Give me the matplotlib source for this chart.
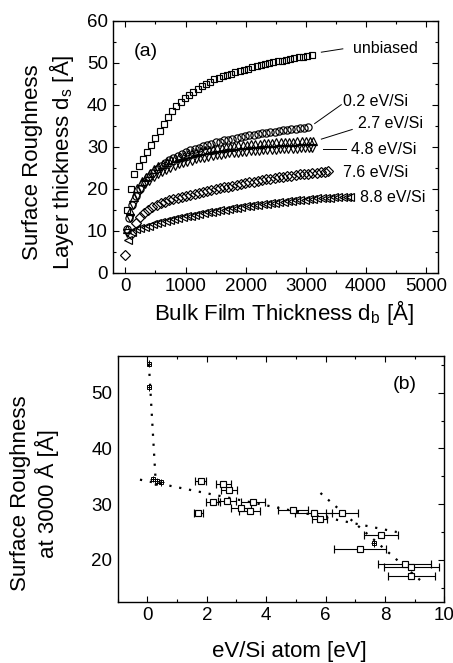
import matplotlib
matplotlib.use("Agg")
import matplotlib.pyplot as plt
from matplotlib.ticker import MultipleLocator

plt.rcParams['font.family'] = ['Liberation Sans', 'DejaVu Sans']
plt.rcParams['mathtext.fontset'] = 'custom'
plt.rcParams['mathtext.rm'] = 'Liberation Sans'
plt.rcParams['mathtext.it'] = 'Liberation Sans:italic'

# ---- panel (a): roughness layer vs bulk thickness ----
unb_x = [30, 95, 150, 220, 290, 360, 430, 500, 570, 640, 710, 780, 850, 920, 990,
         1060, 1130, 1200, 1270, 1340, 1410, 1480, 1550, 1620, 1690, 1760, 1830,
         1900, 1970, 2040, 2110, 2180, 2250, 2320, 2390, 2460, 2530, 2600, 2670,
         2740, 2810, 2880, 2950, 3020, 3100]
unb_y = [15.0, 20.0, 23.4, 25.3, 27.0, 28.7, 30.4, 32.0, 33.8, 35.5, 37.0, 38.5, 39.6,
         40.6, 41.5, 42.4, 43.1, 43.8, 44.4, 45.0, 45.5, 46.0, 46.4, 46.8, 47.1, 47.4,
         47.7, 48.0, 48.3, 48.6, 48.9, 49.1, 49.4, 49.6, 49.9, 50.1, 50.3, 50.5, 50.7,
         50.9, 51.1, 51.3, 51.4, 51.6, 51.8]

e02_x = [20, 60, 110, 170, 240, 310, 380, 450, 520, 590, 660, 730, 800, 870, 940, 1010,
         1080, 1150, 1220, 1290, 1360, 1430, 1500, 1570, 1640, 1710, 1780, 1850, 1920,
         1990, 2060, 2130, 2200, 2270, 2340, 2410, 2480, 2550, 2620, 2690, 2760, 2830,
         2900, 2970, 3030]
e02_y = [10.5, 13.0, 16.0, 18.3, 20.0, 21.5, 22.7, 23.8, 24.7, 25.5, 26.2, 26.8, 27.4,
         27.9, 28.3, 28.7, 29.1, 29.5, 29.8, 30.1, 30.4, 30.7, 31.0, 31.2, 31.5, 31.7,
         31.9, 32.1, 32.3, 32.5, 32.7, 32.9, 33.0, 33.2, 33.3, 33.5, 33.6, 33.8, 33.9,
         34.0, 34.1, 34.3, 34.4, 34.5, 34.6]

e27_x = [30, 80, 140, 200, 270, 340, 410, 480, 550, 620, 690, 760, 830, 900, 970, 1040,
         1110, 1180, 1250, 1320, 1390, 1460, 1530, 1600, 1670, 1740, 1810, 1880, 1950,
         2020, 2090, 2160, 2230, 2300, 2370, 2440, 2510, 2580, 2650, 2720, 2790, 2860,
         2930, 3000, 3070, 3120]
e27_y = [10.5, 14.8, 18.0, 20.2, 21.8, 22.9, 23.8, 24.6, 25.3, 25.9, 26.4, 26.8, 27.2,
         27.6, 27.9, 28.2, 28.5, 28.7, 28.9, 29.1, 29.3, 29.5, 29.6, 29.8, 29.9, 30.0,
         30.2, 30.3, 30.4, 30.5, 30.6, 30.65, 30.7, 30.8, 30.85, 30.9, 31.0, 31.05, 31.1,
         31.15, 31.2, 31.25, 31.3, 31.35, 31.4, 31.4]

e48_x = [20, 70, 130, 190, 260, 330, 400, 470, 540, 610, 680, 750, 820, 890, 960, 1030,
         1100, 1170, 1240, 1310, 1380, 1450, 1520, 1590, 1660, 1730, 1800, 1870, 1940,
         2010, 2080, 2150, 2220, 2290, 2360, 2430, 2500, 2570, 2640, 2710, 2780, 2850,
         2920, 2990, 3060, 3110]
e48_y = [9.5, 13.0, 16.2, 18.3, 19.9, 21.0, 21.9, 22.7, 23.4, 24.0, 24.5, 25.0, 25.4,
         25.8, 26.1, 26.4, 26.7, 27.0, 27.2, 27.4, 27.6, 27.8, 28.0, 28.1, 28.3, 28.4,
         28.5, 28.6, 28.7, 28.8, 28.9, 29.0, 29.05, 29.1, 29.2, 29.25, 29.3, 29.35, 29.4,
         29.45, 29.5, 29.55, 29.6, 29.6, 29.65, 29.7]

e76_x = [0, 100, 170, 240, 310, 380, 450, 520, 590, 660, 730, 800, 870, 940, 1010, 1080,
         1150, 1220, 1290, 1360, 1430, 1500, 1570, 1640, 1710, 1780, 1850, 1920, 1990,
         2060, 2130, 2200, 2270, 2340, 2410, 2480, 2550, 2620, 2690, 2760, 2830, 2900,
         2970, 3040, 3110, 3180, 3250, 3320, 3370]
e76_y = [4.2, 9.3, 11.8, 13.2, 14.2, 15.0, 15.6, 16.1, 16.5, 16.9, 17.2, 17.5, 17.8,
         18.0, 18.3, 18.5, 18.8, 19.0, 19.3, 19.5, 19.7, 19.9, 20.1, 20.3, 20.5, 20.7,
         20.9, 21.1, 21.3, 21.5, 21.7, 21.9, 22.0, 22.2, 22.4, 22.5, 22.7, 22.8, 23.0,
         23.1, 23.3, 23.4, 23.5, 23.6, 23.7, 23.8, 23.9, 24.0, 24.1]

e88_x = [50, 110, 180, 250, 320, 390, 460, 530, 600, 670, 740, 810, 880, 950, 1020,
         1090, 1160, 1230, 1300, 1370, 1440, 1510, 1580, 1650, 1720, 1790, 1860, 1930,
         2000, 2070, 2140, 2210, 2280, 2350, 2420, 2490, 2560, 2630, 2700, 2770, 2840,
         2910, 2980, 3050, 3120, 3190, 3260, 3330, 3400, 3470, 3540, 3610, 3680, 3740]
e88_y = [7.8, 9.8, 10.3, 10.6, 10.9, 11.2, 11.5, 11.8, 12.1, 12.3, 12.6, 12.8, 13.0,
         13.2, 13.4, 13.6, 13.8, 14.0, 14.2, 14.4, 14.5, 14.7, 14.9, 15.0, 15.2, 15.3,
         15.5, 15.6, 15.8, 15.9, 16.0, 16.2, 16.3, 16.4, 16.6, 16.7, 16.8, 16.9, 17.0,
         17.1, 17.2, 17.3, 17.4, 17.5, 17.6, 17.7, 17.8, 17.85, 17.9, 17.95, 18.0, 18.05,
         18.1, 18.1]

labels_a = ["unbiased", "0.2 eV/Si", "2.7 eV/Si", "4.8 eV/Si", "7.6 eV/Si", "8.8 eV/Si"]

# ---- panel (b): roughness at 3000 A vs energy per atom ----
ev = [0.06, 0.06, 0.20, 0.34, 0.45, 1.79, 1.71, 2.55, 2.74, 2.21, 2.68, 3.16, 3.45,
      3.55, 4.90, 5.60, 5.80, 6.56, 7.87, 7.62, 7.15, 8.66, 8.89, 8.88]
rough = [55.2, 51.0, 34.5, 34.1, 33.9, 34.2, 28.4, 33.6, 32.5, 30.4, 30.6, 29.3, 28.8,
         30.4, 29.0, 28.5, 27.3, 28.5, 24.4, 23.0, 22.0, 19.2, 18.7, 17.1]
ev_err = [0.06, 0.06, 0.10, 0.10, 0.10, 0.19, 0.15, 0.25, 0.27, 0.24, 0.30, 0.33, 0.35,
          0.40, 0.50, 0.62, 0.25, 0.55, 0.58, 0.08, 0.88, 0.90, 0.92, 0.79]
small = [True, True, True, True, True, False, False, False, False, False, False, False,
         False, False, False, False, False, False, False, True, False, False, False, False]

fit_lines = [([0.05, 0.30], [55.2, 32.2]),
             ([-0.25, 8.4], [34.4, 25.0]),
             ([5.83, 9.2], [32.0, 16.3])]


def style(ax):
    ax.tick_params(which='both', direction='in', top=True, right=True,
                   labelsize=13.5, width=0.8, pad=4)
    ax.tick_params(which='major', length=4.5)
    ax.tick_params(which='minor', length=2.5)
    for s in ax.spines.values():
        s.set_linewidth(1.0)


fig = plt.figure(figsize=(4.53, 6.63), dpi=100)
ax1 = fig.add_axes([0.2501, 0.5887, 0.7174, 0.3801])
ax2 = fig.add_axes([0.2598, 0.0925, 0.7210, 0.3706])

series = [(unb_x, unb_y, 's', 5.0), (e02_x, e02_y, 'o', 5.2),
          (e27_x, e27_y, '^', 5.6), (e48_x, e48_y, 'v', 5.6),
          (e76_x, e76_y, 'D', 4.7), (e88_x, e88_y, '<', 5.6)]
for x, y, m, ms in series:
    ax1.plot(x, y, ls='none', marker=m, ms=ms, mfc='none', mec='black', mew=0.85)

# labels with leader lines
lab_pos = [(3775, 53.4), (3614, 40.8), (3863, 35.5), (3753, 29.4), (3614, 23.9), (3902, 18.0)]
leaders = [((3257, 52.5), (3614, 53.3)), ((3146, 35.5), (3588, 40.0)),
           ((3257, 31.8), (3770, 34.1)), ((3283, 29.5), (3670, 29.5)), None, None]
for lab, pos, ld in zip(labels_a, lab_pos, leaders):
    ax1.text(pos[0], pos[1], lab, fontsize=11.5, ha='left', va='center')
    if ld is not None:
        ax1.plot([ld[0][0], ld[1][0]], [ld[0][1], ld[1][1]], color='black', lw=0.7)

ax1.text(137, 52.7, "(a)", fontsize=14, ha='left', va='center')
ax1.set_xlim(-200, 5200)
ax1.set_ylim(0, 60)
ax1.xaxis.set_major_locator(MultipleLocator(1000))
ax1.xaxis.set_minor_locator(MultipleLocator(500))
ax1.yaxis.set_major_locator(MultipleLocator(10))
ax1.yaxis.set_minor_locator(MultipleLocator(5))
style(ax1)
ax1.set_xlabel("Bulk Film Thickness d$_\\mathrm{b}$ [Å]", fontsize=16, labelpad=2)
ax1.set_ylabel("Surface Roughness\nLayer thickness d$_\\mathrm{s}$ [Å]", fontsize=16)
ax1.xaxis.set_label_coords(0.524, -0.10)
ax1.yaxis.set_label_coords(-0.115, 0.44)

# panel (b)
for i in range(len(ev)):
    if small[i]:
        ax2.errorbar(ev[i], rough[i], xerr=ev_err[i], yerr=0.6, fmt='s', ms=3.4,
                     mfc='none', mec='black', mew=0.7, ecolor='black', elinewidth=0.7,
                     capsize=0)
    else:
        ax2.errorbar(ev[i], rough[i], xerr=ev_err[i], fmt='s', ms=5.0,
                     mfc='white', mec='black', mew=0.85, ecolor='black', elinewidth=0.8,
                     capsize=2.6, capthick=0.8)

for fx, fy in fit_lines:
    ax2.plot(fx, fy, color='black', lw=1.6, ls=(0, (1, 3.5)))

ax2.text(8.27, 51.4, "(b)", fontsize=14, ha='left', va='center')
ax2.set_xlim(-1, 10)
ax2.set_ylim(12.5, 56.6)
ax2.xaxis.set_major_locator(MultipleLocator(2))
ax2.xaxis.set_minor_locator(MultipleLocator(1))
ax2.yaxis.set_major_locator(MultipleLocator(10))
ax2.yaxis.set_minor_locator(MultipleLocator(5))
style(ax2)
ax2.tick_params(axis='y', which='both', left=False)
ax2.set_xlabel("eV/Si atom [eV]", fontsize=16)
ax2.set_ylabel("Surface Roughness\nat 3000 Å [Å]", fontsize=16)
ax2.xaxis.set_label_coords(0.526, -0.16)
ax2.yaxis.set_label_coords(-0.18, 0.442)

fig.savefig("out.png", dpi=100)
